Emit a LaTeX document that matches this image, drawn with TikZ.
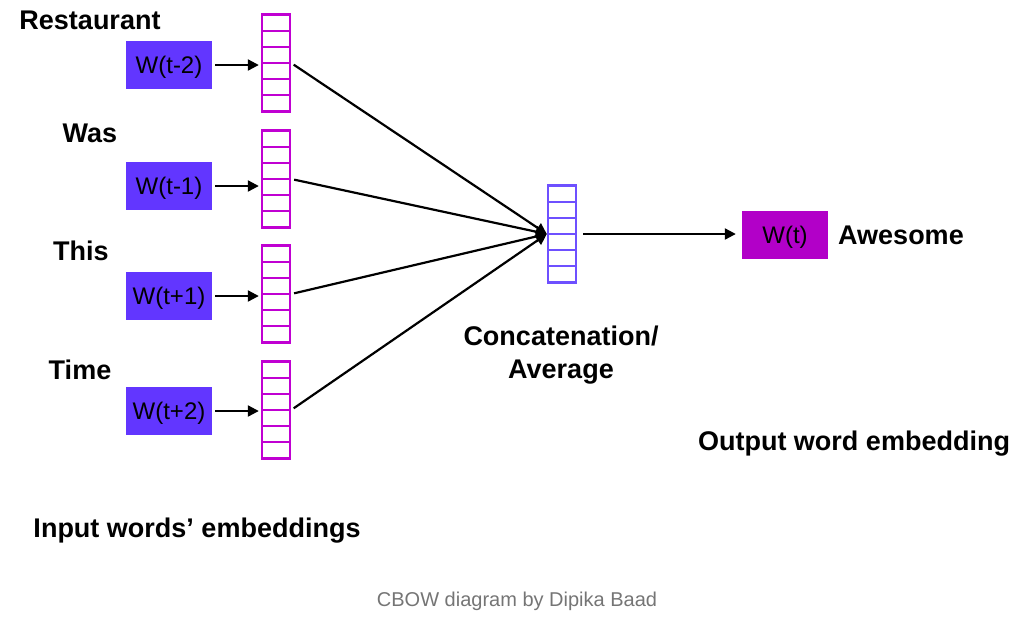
\documentclass[tikz,border=0pt]{standalone}
\usepackage{fontspec}
\setmainfont{Liberation Sans}
\definecolor{WordBlue}{RGB}{98,54,255}
\definecolor{EmbMagenta}{RGB}{192,0,210}
\definecolor{OutMagenta}{RGB}{178,0,200}
\definecolor{MidBlue}{RGB}{110,80,255}
\definecolor{CapGray}{RGB}{117,117,117}
\usetikzlibrary{positioning,calc,arrows.meta}

\begin{document}
\begin{tikzpicture}[x=1pt,y=-1pt,>={Triangle[length=11pt,width=11pt]},
      wd/.style={fill=#1,minimum width=86pt,minimum height=48pt,inner sep=0pt,
                 text height=20pt,text depth=3pt,font=\fontsize{24}{26}\selectfont},
      emb/.style={draw=#1,line width=2.4pt,minimum width=28pt,minimum height=97pt,inner sep=0pt,
                 path picture={\foreach \k in {1,...,5}
                   \draw[#1,line width=2.2pt]
                     ($(path picture bounding box.north west)!\k/6!(path picture bounding box.south west)$) --
                     ($(path picture bounding box.north east)!\k/6!(path picture bounding box.south east)$);}},
      lbl/.style={font=\fontsize{27}{33}\selectfont\bfseries,inner sep=0pt},
      ar/.style={->,line width=2.2pt}]
    \useasboundingbox (0,0) rectangle (1024,622);
    % input words and their embeddings
    \node[wd=WordBlue] (w1) at (169,65) {W(t-2)};
    \node[wd=WordBlue] (w2) at (169,186) {W(t-1)};
    \node[wd=WordBlue] (w3) at (169,296) {W(t+1)};
    \node[wd=WordBlue] (w4) at (169,411) {W(t+2)};
    \node[emb=EmbMagenta] (e1) at (276,63) {};
    \node[emb=EmbMagenta] (e2) at (276,179) {};
    \node[emb=EmbMagenta] (e3) at (276,294) {};
    \node[emb=EmbMagenta] (e4) at (276,410) {};
    \node[lbl] (t1) at (90,20) {Restaurant};
    \node[lbl] (t2) at (90,133) {Was};
    \node[lbl] (t3) at (81,251) {This};
    \node[lbl] (t4) at (80,370) {Time};
    % hidden layer and output
    \node[emb=MidBlue] (mid) at (562,234) {};
    \node[wd=OutMagenta] (out) at (785,235) {W(t)};
    \node[lbl,anchor=west] (aw) at (838,235) {Awesome};
    \foreach \x in {1,...,4}
      \draw[ar,shorten <=3pt,shorten >=2pt] (w\x.east) -- (w\x.east -| e\x.west);
    \foreach \x in {1,...,4}
      \draw[ar,shorten <=3pt] (e\x.east) -- (mid.west);
    \draw[ar,shorten <=6pt,shorten >=6pt] (mid.east) -- (mid.east -| out.west);
    \node[lbl,align=center] (cat) at (561,355) {Concatenation/\\Average};
    \node[lbl] (owe) at (854,444) {Output word embedding};
    \node[lbl] (iwe) at (197,531) {Input words’ embeddings};
    \node[font=\fontsize{20}{24}\selectfont,text=CapGray] (cap) at (517,601) {CBOW diagram by Dipika Baad};
  \end{tikzpicture}
\end{document}
